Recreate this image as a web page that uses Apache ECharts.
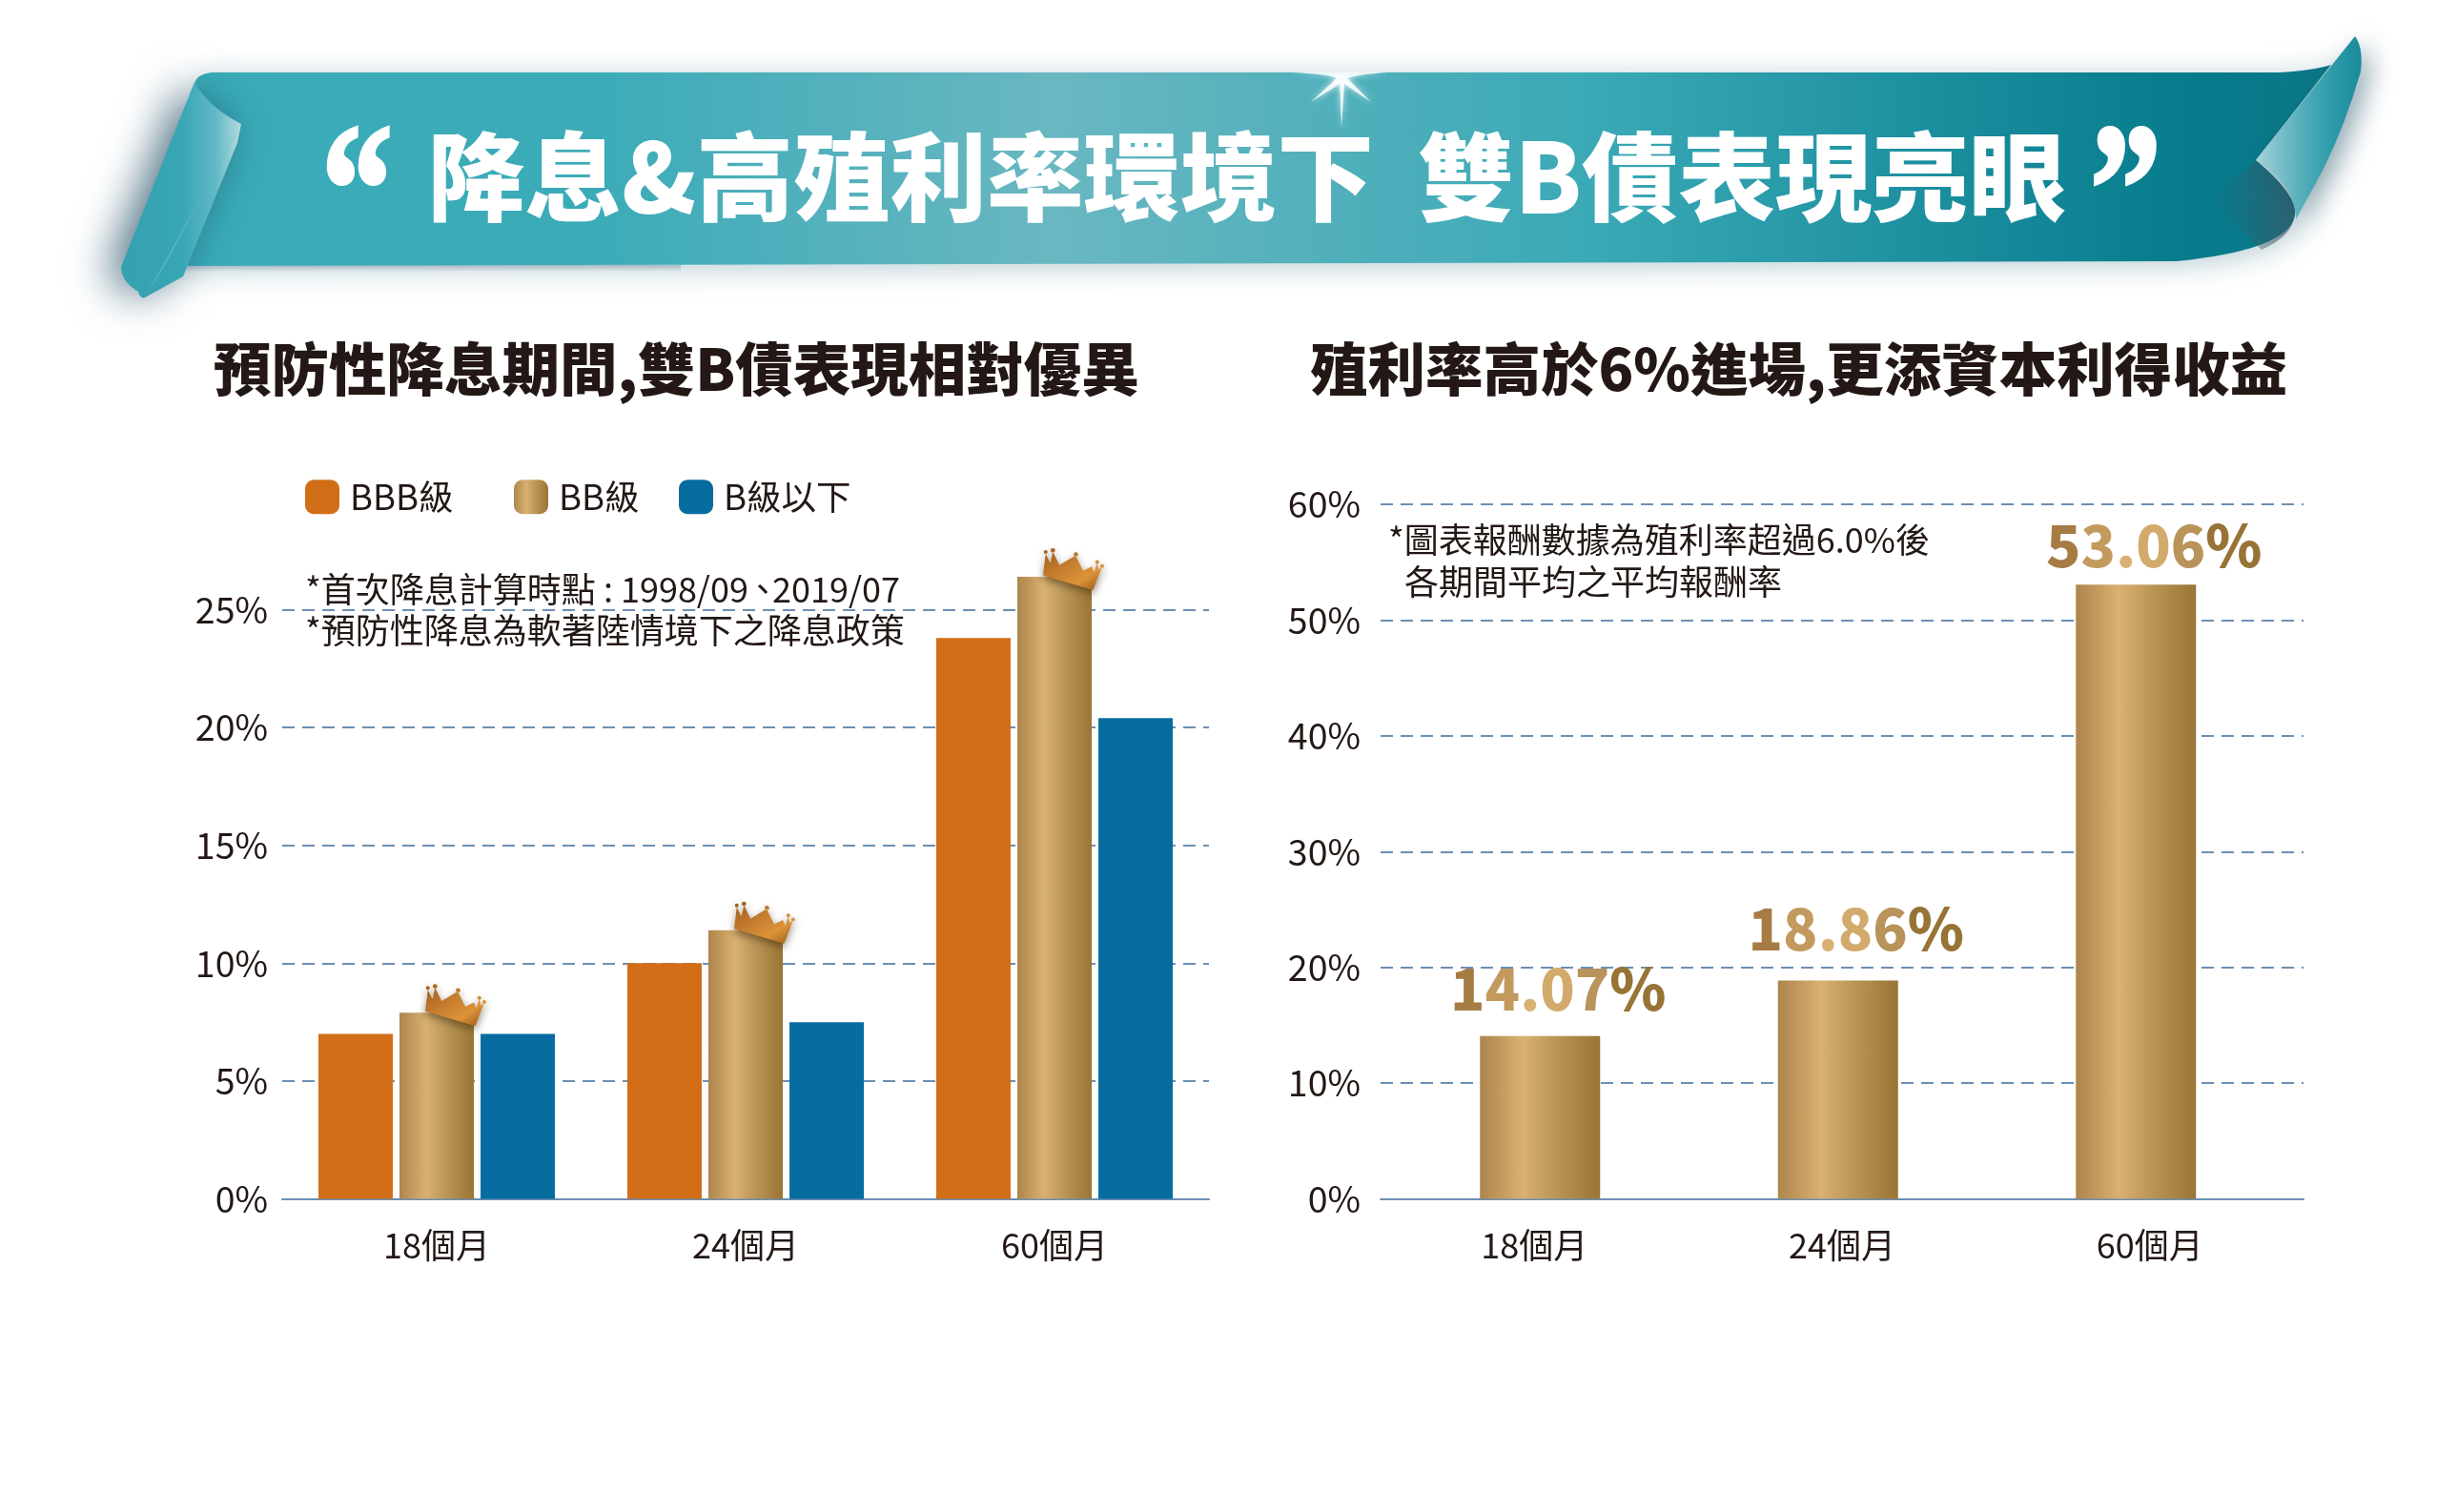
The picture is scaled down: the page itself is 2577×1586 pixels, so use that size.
<!DOCTYPE html>
<html>
<head>
<meta charset="utf-8">
<title>雙B債</title>
<style>
  html, body { margin: 0; padding: 0; background: #fff; }
  #main { width: 2577px; height: 1586px; }
</style>
<script src="https://cdn.jsdelivr.net/npm/echarts@6/dist/echarts.min.js"></script>
</head>
<body>
<div id="main"></div>
<script>
var categories = ['18個月', '24個月', '60個月'];
var bbbValues = [7.0, 10.0, 23.8];
var bbValues = [7.9, 11.4, 26.4];
var bValues = [7.0, 7.5, 20.4];
var yieldValues = [14.07, 18.86, 53.06];
var leftTicks = [0, 5, 10, 15, 20, 25];
var rightTicks = [0, 10, 20, 30, 40, 50, 60];

var FONT = '"Noto Sans CJK TC", "Noto Sans", sans-serif';
var INK = '#231815';
var GRIDLINE = '#6c8fb4';

function gold() {
  return new echarts.graphic.LinearGradient(0, 0, 1, 0, [
    { offset: 0, color: '#ad854d' },
    { offset: 0.36, color: '#d9b171' },
    { offset: 0.62, color: '#bb9658' },
    { offset: 1, color: '#997435' }
  ]);
}

// crown on top of the BB bars
var CROWN = 'path://M102 130L110 62L124 92L132 56L152 98L201 68L224 116L250 102L258 120L267 92L272 112L282 103L254 176Z' +
  'M104 57a6 6 0 1 0 12 0a6 6 0 1 0 -12 0Z' +
  'M125 52a7 7 0 1 0 14 0a7 7 0 1 0 -14 0Z' +
  'M195 65a7 7 0 1 0 14 0a7 7 0 1 0 -14 0Z' +
  'M261 88a6 6 0 1 0 12 0a6 6 0 1 0 -12 0Z' +
  'M276 101a6 6 0 1 0 12 0a6 6 0 1 0 -12 0Z';

// value label: one colour per character, so the text looks like the gold bars
var labelRamp = ['#a67c45', '#c39a5e', '#d9b173', '#d2aa6b', '#b8935a', '#977335'];
var labelRich = {};
labelRamp.forEach(function (c, i) {
  labelRich['c' + i] = { color: c, fontFamily: FONT, fontSize: 60, fontWeight: 900 };
});
function goldLabel(p) {
  var s = p.value.toFixed(2) + '%';
  return s.split('').map(function (ch, i) { return '{c' + i + '|' + ch + '}'; }).join('');
}
var labelLift = [-14, -19, -6];

function note(text, x, y) {
  return {
    type: 'text', x: x, y: y, z: 20,
    style: { text: text, fill: INK, font: '36px ' + FONT }
  };
}

function quote(text, x) {
  return {
    type: 'text', z: 10, x: x, y: 116, scaleY: 1.3,
    style: { text: text, fill: '#fff', stroke: '#fff', lineWidth: 3, font: '900 150px "Liberation Serif", serif' }
  };
}

// the graphic component has no plain path type, so register the ribbon outlines
function ribbon(name, d, z, style) {
  echarts.graphic.registerShape(name, echarts.graphic.extendPath(d, {}));
  return { type: name, z: z, style: style };
}

var bannerGrad = new echarts.graphic.LinearGradient(0, 0, 1, 0, [
  { offset: 0, color: '#39abb8' },
  { offset: 0.2, color: '#3cabb8' },
  { offset: 0.41, color: '#69b7c1' },
  { offset: 0.66, color: '#3aa9b6' },
  { offset: 0.93, color: '#067c8d' },
  { offset: 1, color: '#0a7686' }
]);

var banner = [
  // under-shadow on the left half
  { type: 'rect', z: 1, shape: { x: 174, y: 278, width: 540, height: 7 },
    style: { fill: new echarts.graphic.LinearGradient(0, 0, 0, 1, [
      { offset: 0, color: '#c9ced6' }, { offset: 1, color: '#ffffff' }]) } },
  ribbon('ribbonBody', 'M222 76 L2391 76 Q2425 74 2445 68 L2366 168 Q2410 205 2407 225 Q2402 262 2283 274 L174 279 L204 90 Q204 78 222 76 Z', 2,
    { fill: bannerGrad, shadowColor: 'rgba(20,90,110,0.3)', shadowBlur: 30, shadowOffsetX: 8, shadowOffsetY: 4 }),
  ribbon('ribbonShade', 'M2366 168 Q2410 205 2407 225 Q2404 248 2372 262 L2320 210 Z', 3,
    { fill: new echarts.graphic.LinearGradient(0, 0, 1, 0, [
      { offset: 0, color: 'rgba(50,90,105,0)' }, { offset: 1, color: 'rgba(60,90,105,0.7)' }]) }),
  ribbon('ribbonFoldL', 'M204 86 Q218 112 253 130 L249 150 L192 290 L152 312 Q147 314 145 306 Q127 295 127 280 Z', 5,
    { fill: new echarts.graphic.LinearGradient(0, 0, 1, 0, [
      { offset: 0, color: '#36a0b0' }, { offset: 0.5, color: '#38a6b5' }, { offset: 0.78, color: '#5fb8c5' }, { offset: 1, color: '#b6dae0' }]),
      shadowColor: 'rgba(25,70,95,0.75)', shadowBlur: 46, shadowOffsetX: -12 }),
  ribbon('ribbonFoldLEdge', 'M253 130 L152 312 L174 276 Z', 6, { fill: '#5ab3c3' }),
  ribbon('ribbonFoldR', 'M2470 38 Q2479 50 2476 75 Q2460 130 2438 175 Q2422 205 2408 230 Q2408 195 2366 168 Z', 5,
    { fill: new echarts.graphic.LinearGradient(0, 0, 1, 0, [
      { offset: 0, color: '#a8d2da' }, { offset: 0.35, color: '#62b5c0' }, { offset: 0.7, color: '#2f9cab' }, { offset: 1, color: '#1a8a9b' }]),
      shadowColor: 'rgba(30,80,100,0.5)', shadowBlur: 28, shadowOffsetX: 8, shadowOffsetY: 8 }),
  // sparkle at the top edge
  ribbon('ribbonSpark', 'M1355 76 Q1395 78 1402 82 L1375 107 L1405 88 L1407 134 L1410 88 L1438 107 L1413 82 Q1425 78 1455 76 Z', 7,
    { fill: '#ffffff', opacity: 0.85, shadowColor: '#ffffff', shadowBlur: 6 }),
  // big title
  quote('“', 337),
  quote('”', 2192),
  { type: 'text', z: 10, x: 449, y: 135,
    style: { text: '降息&高殖利率環境下', fill: '#fff', font: '900 101.5px ' + FONT } },
  { type: 'text', z: 10, x: 1487, y: 135,
    style: { text: '雙B債表現亮眼', fill: '#fff', font: '900 101.5px ' + FONT } },
  // footnotes
  note('*首次降息計算時點 : 1998/09', 320, 600),
  note('、', 782, 600),
  note('2019/07', 810, 600),
  note('*預防性降息為軟著陸情境下之降息政策', 320, 643),
  note('*圖表報酬數據為殖利率超過6.0%後', 1456, 548),
  note('各期間平均之平均報酬率', 1473, 592)
];

// headroom: extra scale above the last tick, so a bar can pass the top gridline
function yAxisFor(grid, ticks, headroom, margin, show) {
  var step = ticks[1] - ticks[0];
  return {
    type: 'value', gridIndex: grid, min: ticks[0],
    max: ticks[ticks.length - 1] + (headroom ? step : 0), interval: step, show: show,
    axisLine: { show: false }, axisTick: { show: false },
    axisLabel: {
      show: show, showMaxLabel: !headroom, formatter: '{value}%', color: INK,
      fontFamily: FONT, fontSize: 37.5, margin: margin
    },
    splitLine: {
      show: show, showMaxLine: !headroom,
      lineStyle: { color: GRIDLINE, width: 2, type: [13, 8] }
    }
  };
}

function xAxisFor(grid, show) {
  return {
    type: 'category', gridIndex: grid, data: categories,
    show: show,
    axisTick: { show: false },
    axisLine: { lineStyle: { color: GRIDLINE, width: 2 } },
    axisLabel: { color: INK, fontFamily: FONT, fontSize: 36, margin: 31 }
  };
}

var option = {
  animation: false,
  backgroundColor: '#fff',
  title: [
    { text: '預防性降息期間,雙B債表現相對優異', left: 224, top: 357,
      textStyle: { color: INK, fontFamily: FONT, fontWeight: 900, fontSize: 60.5 }, padding: 0 },
    { text: '殖利率高於6%進場,更添資本利得收益', left: 1374, top: 357,
      textStyle: { color: INK, fontFamily: FONT, fontWeight: 900, fontSize: 60.5 }, padding: 0 }
  ],
  legend: [
    { data: ['BBB級'], left: 320, top: 503 },
    { data: ['BB級'], left: 539, top: 503 },
    { data: ['B級以下'], left: 712, top: 503 }
  ].map(function (l) {
    l.padding = 0;
    l.icon = 'roundRect';
    l.itemWidth = 36;
    l.itemHeight = 36;
    l.textStyle = { color: INK, fontFamily: FONT, fontSize: 36.5, padding: [0, 0, 0, 6] };
    return l;
  }),
  grid: [
    { left: 296, top: 516, width: 972, height: 741.5 },
    { left: 1448, top: 529, width: 968, height: 728.5 },
    // bars of the right chart sit a little tighter than its labels
    { left: 1459, top: 529, width: 937.5, height: 728.5 }
  ],
  xAxis: [xAxisFor(0, true), xAxisFor(1, true), xAxisFor(2, false)],
  yAxis: [
    yAxisFor(0, leftTicks, true, 15, true),
    yAxisFor(1, rightTicks, false, 21, true),
    yAxisFor(2, rightTicks, false, 21, false)
  ],
  series: [
    { name: 'BBB級', type: 'bar', xAxisIndex: 0, yAxisIndex: 0, data: bbbValues,
      barWidth: 78, barGap: '9%', itemStyle: { color: '#d26e17' } },
    { name: 'BB級', type: 'bar', xAxisIndex: 0, yAxisIndex: 0, data: bbValues,
      barWidth: 78, barGap: '9%', itemStyle: { color: gold() }, z: 3,
      markPoint: {
        symbol: CROWN, symbolSize: [64, 44], symbolKeepAspect: false, symbolOffset: [20, -8],
        label: { show: false }, silent: true,
        itemStyle: {
          color: new echarts.graphic.LinearGradient(0, 0, 1, 1, [
            { offset: 0, color: '#a05c1c' }, { offset: 0.45, color: '#c98130' },
            { offset: 0.7, color: '#dd9338' }, { offset: 1, color: '#8f5217' }]),
          shadowColor: 'rgba(60,40,10,0.55)', shadowBlur: 8, shadowOffsetY: 4
        },
        data: categories.map(function (c, i) {
          return { coord: [c, bbValues[i]] };
        })
      } },
    { name: 'B級以下', type: 'bar', xAxisIndex: 0, yAxisIndex: 0, data: bValues,
      barWidth: 78, barGap: '9%', itemStyle: { color: '#076da0' } },
    { name: '殖利率', type: 'bar', xAxisIndex: 2, yAxisIndex: 2,
      data: yieldValues.map(function (v, i) {
        return { value: v, label: { offset: [19, labelLift[i]] } };
      }),
      barWidth: 126, itemStyle: { color: gold() },
      label: { show: true, position: 'top', formatter: goldLabel, rich: labelRich } }
  ],
  graphic: banner
};

var chart = echarts.init(document.getElementById('main'));
chart.setOption(option);
</script>
</body>
</html>
